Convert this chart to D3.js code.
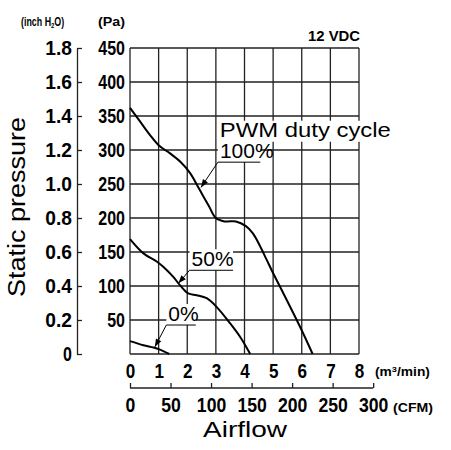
<!DOCTYPE html>
<html lang='en'>
<head>
<meta charset='utf-8'>
<title>Static pressure vs airflow</title>
<script src='https://d3js.org/d3.v7.min.js'></script>
<style>
  body { margin: 0; background: #fff; }
  svg { display: block; }
  .num text { font-family: 'Liberation Sans Narrow', 'Liberation Sans', Arial, sans-serif; font-weight: bold; font-size: 20px; fill: #000; }
  .lbl { font-family: 'Liberation Sans', Arial, sans-serif; fill: #000; }
  .grid line { stroke: #222; stroke-width: 1.3; }
  .curve { fill: none; stroke: #000; stroke-width: 2; }
</style>
</head>
<body>
<script>
// curve data (m3/min, Pa)
var flow100 = [0, 0.35, 0.7, 1.0, 1.4, 1.75, 2.1, 2.4, 2.75, 3.0, 3.3, 3.7, 4.05, 4.3, 4.55, 4.78, 5.01, 5.48, 5.94, 6.38];
var pa100   = [362, 342, 322, 307, 295, 283, 266, 244, 218, 200, 195, 195, 188, 177, 158, 138, 118, 79, 40, 0];
var flow50 = [0, 0.47, 0.93, 1.17, 1.52, 1.75, 2.04, 2.33, 2.68, 3.03, 3.5, 3.85, 4.2];
var pa50   = [169, 148, 136, 128, 113, 101, 89, 86.5, 82, 69, 45, 25, 0];
var flow0 = [0, 0.47, 0.82, 1.05, 1.37];
var pa0   = [19, 13, 9.5, 6.5, 0];

// axis ticks
var flowTicks = [0, 1, 2, 3, 4, 5, 6, 7, 8];
var cfmTicks = [0, 50, 100, 150, 200, 250, 300];
var paTicks = [50, 100, 150, 200, 250, 300, 350, 400, 450];
var paGrid = [0, 50, 100, 150, 200, 250, 300, 350, 400, 450];
var inchTicks = [0, 0.2, 0.4, 0.6, 0.8, 1.0, 1.2, 1.4, 1.6, 1.8];

// duty cycle labels: text start (flow, Pa), underline end flow, arrow tip (flow, Pa)
var dutyLabels = ['100%', '50%', '0%'];
var dutyAt = [[3.14, 288], [2.15, 129], [1.34, 48.5]];
var dutyLineEnd = [4.55, 3.6, 2.3];
var dutyTip = [[2.48, 245], [1.69, 104], [0.87, 10.5]];

var w = 451, h = 450;
var svg = d3.select('body').append('svg').attr('width', w).attr('height', h);

var x = d3.scaleLinear().domain([0, 8]).range([130, 359]);
var y = d3.scaleLinear().domain([0, 450]).range([354, 48]);
var cfm = d3.scaleLinear().domain([0, 8 * 35.3147]).range([130, 359]);
var inch = d3.scaleLinear().domain([0, 1.8]).range([354, 48]);

// squeeze the bold tick numbers to a condensed look
function narrow(sel, perChar) {
  sel.selectAll('text')
    .attr('textLength', function() { return this.textContent.length * perChar; })
    .attr('lengthAdjust', 'spacingAndGlyphs');
}

// grid
var grid = svg.append('g').attr('class', 'grid');
grid.selectAll('.v').data(flowTicks).enter().append('line')
  .attr('x1', function(d) { return x(d); }).attr('x2', function(d) { return x(d); })
  .attr('y1', y(0)).attr('y2', y(450));
grid.selectAll('.h').data(paGrid).enter().append('line')
  .attr('x1', x(0)).attr('x2', x(8))
  .attr('y1', function(d) { return y(d); }).attr('y2', function(d) { return y(d); });

// curves
var line = d3.line()
  .x(function(d) { return x(d[0]); })
  .y(function(d) { return y(d[1]); })
  .curve(d3.curveCatmullRom.alpha(0.5));
[[flow100, pa100], [flow50, pa50], [flow0, pa0]].forEach(function(s) {
  svg.append('path').attr('class', 'curve').attr('d', line(d3.zip(s[0], s[1])));
});

// Pa axis
svg.append('g').attr('class', 'num')
  .attr('transform', 'translate(' + x(0) + ',0)')
  .call(d3.axisLeft(y).tickValues(paTicks).tickSize(0).tickPadding(5))
  .call(function(g) { g.select('.domain').remove(); })
  .call(narrow, 8.9);

// inch H2O axis
var ia = svg.append('g').attr('class', 'num')
  .attr('transform', 'translate(77,0)')
  .call(d3.axisLeft(inch).tickValues(inchTicks).tickSizeInner(-5).tickSizeOuter(0).tickPadding(5)
    .tickFormat(function(d) { return d === 0 ? '0' : d.toFixed(1); }))
  .call(narrow, 8.9);
ia.selectAll('line, path').attr('stroke', '#222').attr('stroke-width', 1.3);

// m3/min axis
svg.append('g').attr('class', 'num')
  .attr('transform', 'translate(0,' + y(0) + ')')
  .call(d3.axisBottom(x).tickValues(flowTicks).tickSize(0).tickPadding(10))
  .call(function(g) { g.select('.domain').remove(); })
  .call(narrow, 9.5);

// CFM axis
var ca = svg.append('g').attr('class', 'num')
  .attr('transform', 'translate(0,388)')
  .call(d3.axisBottom(cfm).tickValues(cfmTicks).tickSizeInner(-5).tickSizeOuter(0).tickPadding(10))
  .call(narrow, 9.8);
ca.select('.domain').attr('d', 'M' + cfm(0) + ',0H' + cfm(300));
ca.selectAll('line, path').attr('stroke', '#222').attr('stroke-width', 1.3);

// unit labels
svg.append('g').attr('transform', 'translate(21,26) scale(0.74,1)')
  .append('text').attr('class', 'lbl')
  .attr('font-size', 12).attr('font-weight', 'bold')
  .html('(inch H<tspan font-size="8" dy="2">2</tspan><tspan dy="-2">O)</tspan>');
svg.append('text').attr('class', 'lbl').attr('x', 98).attr('y', 26)
  .attr('font-size', 12).attr('font-weight', 'bold')
  .attr('textLength', 27).attr('lengthAdjust', 'spacingAndGlyphs').text('(Pa)');
svg.append('g').attr('transform', 'translate(375,376) scale(1.15,1)')
  .append('text').attr('class', 'lbl')
  .attr('font-size', 12).attr('font-weight', 'bold')
  .html('(m<tspan font-size="8" dy="-4">3</tspan><tspan dy="4">/min)</tspan>');
svg.append('text').attr('class', 'lbl').attr('x', 393).attr('y', 412)
  .attr('font-size', 12).attr('font-weight', 'bold')
  .attr('textLength', 40).attr('lengthAdjust', 'spacingAndGlyphs').text('(CFM)');
svg.append('text').attr('class', 'lbl').attr('x', 308).attr('y', 41)
  .attr('font-size', 14).attr('font-weight', 'bold')
  .attr('textLength', 52).attr('lengthAdjust', 'spacingAndGlyphs').text('12 VDC');

// axis titles
svg.append('text').attr('class', 'lbl').attr('x', 203).attr('y', 437)
  .attr('font-size', 22).attr('textLength', 84).attr('lengthAdjust', 'spacingAndGlyphs').text('Airflow');
svg.append('text').attr('class', 'lbl')
  .attr('transform', 'translate(25,297) rotate(-90)')
  .attr('font-size', 23).attr('textLength', 180).attr('lengthAdjust', 'spacingAndGlyphs').text('Static pressure');

// duty cycle labels
var pwmX = x(3.14), pwmY = y(319.5);
svg.append('rect').attr('x', pwmX - 2).attr('y', pwmY - 16).attr('width', 176).attr('height', 21).attr('fill', '#fff');
svg.append('text').attr('class', 'lbl').attr('x', pwmX).attr('y', pwmY)
  .attr('font-size', 21).attr('textLength', 171).attr('lengthAdjust', 'spacingAndGlyphs').text('PWM duty cycle');

dutyLabels.forEach(function(t, i) {
  var tx = x(dutyAt[i][0]), ty = y(dutyAt[i][1]);
  var ux = x(dutyLineEnd[i]);
  var tip = [x(dutyTip[i][0]), y(dutyTip[i][1])];
  var start = [tx - 2, ty + 4];
  svg.append('rect').attr('x', tx - 2).attr('y', ty - 17).attr('width', ux - tx + 2).attr('height', 21).attr('fill', '#fff');
  svg.append('text').attr('class', 'lbl').attr('x', tx).attr('y', ty).attr('font-size', 21).text(t);
  svg.append('path').attr('fill', 'none').attr('stroke', '#000').attr('stroke-width', 1)
    .attr('d', 'M' + ux + ',' + start[1] + 'H' + start[0] + 'L' + tip[0] + ',' + tip[1]);
  // arrowhead
  var ang = Math.atan2(tip[1] - start[1], tip[0] - start[0]);
  var L = 8, W = 3;
  var bx = tip[0] - L * Math.cos(ang), by = tip[1] - L * Math.sin(ang);
  svg.append('path').attr('fill', '#000')
    .attr('d', 'M' + tip[0] + ',' + tip[1] +
      'L' + (bx + W * Math.sin(ang)) + ',' + (by - W * Math.cos(ang)) +
      'L' + (bx - W * Math.sin(ang)) + ',' + (by + W * Math.cos(ang)) + 'Z');
});
</script>
</body>
</html>
